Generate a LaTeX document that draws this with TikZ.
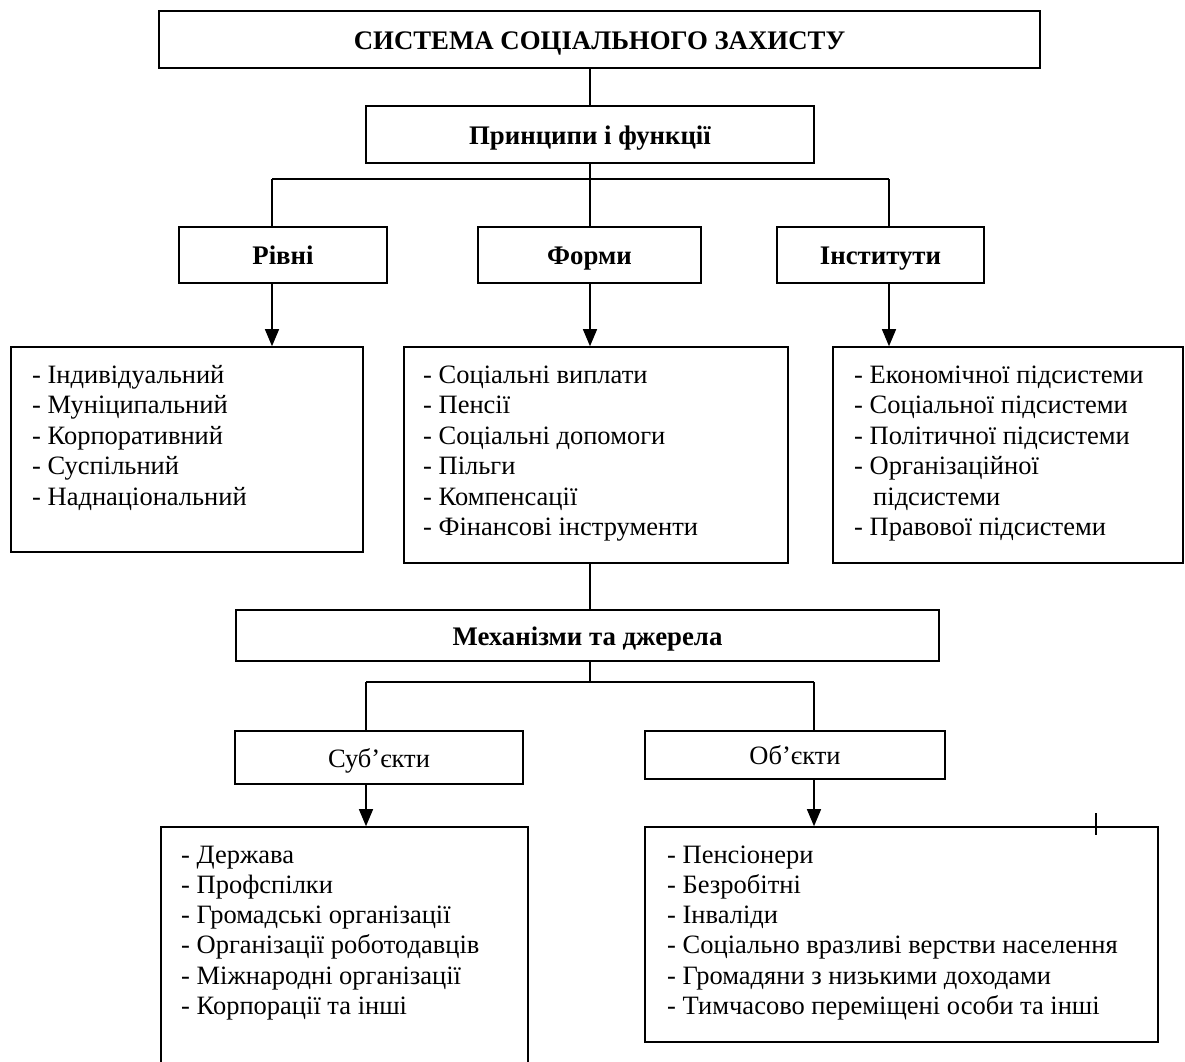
\documentclass[tikz,border=0pt]{standalone}
\usepackage{fontspec}
\setmainfont{Liberation Serif}
\usetikzlibrary{arrows.meta}
\tikzset{
  box/.style={draw, line width=1.6pt, inner sep=0pt, rectangle,
    font=\fontsize{26.5}{30.5}\selectfont, text height=19.5pt, text depth=0pt},
  bbox/.style={box, font=\fontsize{26.8}{30.5}\selectfont\bfseries},
  item/.style={anchor=base west, inner sep=0pt, font=\fontsize{26.5}{30.5}\selectfont},
  link/.style={line width=1.3pt},
  arr/.style={line width=1.3pt, -{Triangle[length=17pt,width=14pt]}}
}
\newcommand{\boxat}[6]{% name, x1, y1, x2, y2, style/text
  \node[#6, minimum width={(#4-#2)*1pt}, minimum height={(#5-#3)*1pt}] (#1) at ({(#2+#4)/2},{(#3+#5)/2})}
\begin{document}
\begin{tikzpicture}[x=1pt,y=-1pt]
\useasboundingbox (0,0) rectangle (1185,1061);
\clip (0,0) rectangle (1185,1061);
% header boxes
\boxat{title}{159}{11}{1040}{68}{bbox} {СИСТЕМА СОЦІАЛЬНОГО ЗАХИСТУ};
\boxat{princ}{366}{106}{814}{163}{bbox} {Принципи і функції};
\boxat{rivni}{179}{227}{387}{283}{bbox} {Рівні};
\boxat{formy}{478}{227}{701}{283}{bbox} {Форми};
\boxat{inst}{777}{227}{984}{283}{bbox} {Інститути};
% list boxes
\boxat{levels}{11}{347}{363}{552}{box} {};
\boxat{forms}{404}{347}{788}{563}{box} {};
\boxat{insts}{833}{347}{1183}{563}{box} {};
\boxat{mech}{236}{610}{939}{661}{bbox} {Механізми та джерела};
\boxat{subj}{235}{731}{523}{784}{box} {Суб’єкти};
\boxat{obj}{645}{731}{945}{779}{box} {Об’єкти};
\boxat{subjl}{161}{827}{528}{1090}{box} {};
\boxat{objl}{645}{827}{1158}{1042}{box} {};
% list texts
\foreach \t [count=\i] in {- Індивідуальний, - Муніципальний, - Корпоративний, - Суспільний, - Наднаціональний}
  \node[item] (lv\i) at (32,{383+30.5*(\i-1)}) {\t};
\foreach \t [count=\i] in {- Соціальні виплати, - Пенсії, - Соціальні допомоги, - Пільги, - Компенсації, - Фінансові інструменти}
  \node[item] (fm\i) at (423,{383+30.5*(\i-1)}) {\t};
\node[item] (in1) at (854,383) {- Економічної підсистеми};
\node[item] (in2) at (854,413.5) {- Соціальної підсистеми};
\node[item] (in3) at (854,444) {- Політичної підсистеми};
\node[item] (in4) at (854,474.5) {- Організаційної};
\node[item] (in5) at (873,505) {підсистеми};
\node[item] (in6) at (854,535.5) {- Правової підсистеми};
\foreach \t [count=\i] in {- Держава, - Профспілки, - Громадські організації, - Організації роботодавців, - Міжнародні організації, - Корпорації та інші}
  \node[item] (sb\i) at (181,{863+30.3*(\i-1)}) {\t};
\foreach \t [count=\i] in {- Пенсіонери, - Безробітні, - Інваліди, - Соціально вразливі верстви населення, - Громадяни з низькими доходами, - Тимчасово переміщені особи та інші}
  \node[item] (ob\i) at (667,{863+30.3*(\i-1)}) {\t};
% junctions
\coordinate (j1) at (590,179);
\coordinate (jl) at (272,179);
\coordinate (jr) at (889,179);
\coordinate (k1) at (590,682);
\coordinate (kl) at (366,682);
\coordinate (kr) at (814,682);
\coordinate (tick) at (1096,813);
% connectors
\draw[link] (title.south -| j1) -- (princ.north -| j1);
\draw[link] (princ.south -| j1) -- (j1);
\draw[link] (jl) -- (jr);
\draw[link] (jl) -- (jl |- rivni.north);
\draw[link] (j1) -- (j1 |- formy.north);
\draw[link] (jr) -- (jr |- inst.north);
\draw[arr] (jl |- rivni.south) -- (jl |- levels.north);
\draw[arr] (j1 |- formy.south) -- (j1 |- forms.north);
\draw[arr] (jr |- inst.south) -- (jr |- insts.north);
\draw[link] (forms.south -| k1) -- (mech.north -| k1);
\draw[link] (mech.south -| k1) -- (k1);
\draw[link] (kl) -- (kr);
\draw[link] (kl) -- (kl |- subj.north);
\draw[link] (kr) -- (kr |- obj.north);
\draw[arr] (kl |- subj.south) -- (kl |- subjl.north);
\draw[arr] (kr |- obj.south) -- (kr |- objl.north);
\draw[link] (tick) -- (tick |- objl.north) -- ++(0,9);
\end{tikzpicture}
\end{document}
